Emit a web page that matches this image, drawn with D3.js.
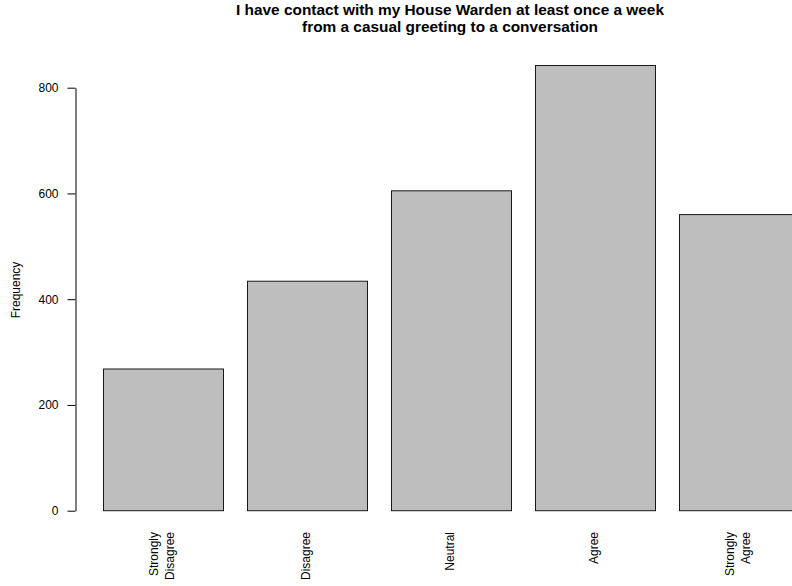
<!DOCTYPE html>
<html>
<head>
<meta charset="utf-8">
<script src="https://cdn.jsdelivr.net/npm/d3@7/dist/d3.min.js"></script>
<style>
  html, body { margin: 0; padding: 0; background: #fff; }
  svg { display: block; }
  text { font-family: "Liberation Sans", Arial, Helvetica, sans-serif; fill: #000; }
</style>
</head>
<body>
<svg id="chart" width="792" height="586"></svg>
<script>
const categories = ["Strongly\nDisagree", "Disagree", "Neutral", "Agree", "Strongly\nAgree"];
const frequencies = [268, 434, 605, 842, 560];
const yTicks = [0, 200, 400, 600, 800];
const titleLines = ["I have contact with my House Warden at least once a week",
                    "from a casual greeting to a conversation"];
const yLabel = "Frequency";

const svg = d3.select("#chart");

const x = d3.scaleBand()
  .domain(categories)
  .range([91, 811])
  .paddingInner(1 / 6)
  .paddingOuter(1 / 12);

const y = d3.scaleLinear()
  .domain([0, 800])
  .range([510.7, 87.7]);

// Bars
svg.append("g")
  .selectAll("rect")
  .data(frequencies)
  .join("rect")
  .attr("x", (d, i) => x(categories[i]) + 0.5)
  .attr("y", d => y(d))
  .attr("width", x.bandwidth())
  .attr("height", d => y(0) - y(d))
  .attr("fill", "#bebebe")
  .attr("stroke", "#1a1a1a")
  .attr("stroke-width", 1);

// Y axis
const yAxis = d3.axisLeft(y)
  .tickValues(yTicks)
  .tickSize(8)
  .tickSizeOuter(0)
  .tickPadding(9);
const gy = svg.append("g")
  .attr("transform", "translate(75.5,0)")
  .call(yAxis);
gy.select(".domain").attr("stroke", "#000");
gy.selectAll(".tick line").attr("stroke", "#000");
gy.selectAll(".tick text")
  .attr("font-size", 12)
  .attr("font-family", "\"Liberation Sans\", Arial, sans-serif")
  .attr("fill", "#000");

// Category labels (rotated)
const lab = svg.append("g")
  .selectAll("g")
  .data(categories)
  .join("g")
  .attr("transform", d => `translate(${x(d) + x.bandwidth() / 2},532) rotate(-90)`);
lab.each(function (d) {
  const lines = d.split("\n");
  const t = d3.select(this).append("text")
    .attr("text-anchor", "end")
    .attr("font-size", 12);
  lines.forEach((l, i) => {
    t.append("tspan")
      .attr("x", 0)
      .attr("y", 3 + (i - (lines.length - 1) / 2) * 15.5)
      .text(l);
  });
});

// Y label
svg.append("text")
  .attr("transform", "translate(20,290) rotate(-90)")
  .attr("text-anchor", "middle")
  .attr("font-size", 12)
  .text(yLabel);

// Title
const title = svg.append("text")
  .attr("text-anchor", "middle")
  .attr("font-size", 15.4)
  .attr("font-weight", "bold");
titleLines.forEach((l, i) => {
  title.append("tspan")
    .attr("x", 450)
    .attr("y", 15 + i * 17.2)
    .text(l);
});
</script>
</body>
</html>
